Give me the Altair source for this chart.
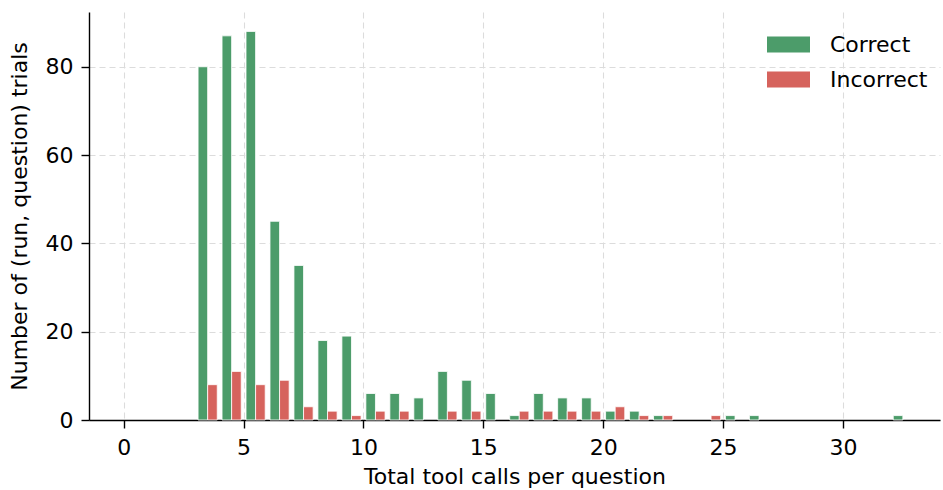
import altair as alt
import pandas as pd

bins = list(range(3, 33))
correct = [80, 87, 88, 45, 35, 18, 19, 6, 6, 5, 11, 9, 6, 1, 6, 5, 5, 2, 2, 1,
           0, 0, 1, 1, 0, 0, 0, 0, 0, 1]
incorrect = [8, 11, 8, 9, 3, 2, 1, 2, 2, 0, 2, 2, 0, 2, 2, 2, 2, 3, 1, 1,
             0, 1, 0, 0, 0, 0, 0, 0, 0, 0]
outcomes = ["Correct", "Incorrect"]
colors = ["#4c9c6a", "#d6635d"]
x_ticks = [0, 5, 10, 15, 20, 25, 30]
y_ticks = [0, 20, 40, 60, 80]

rows = []
for b, c, i in zip(bins, correct, incorrect):
    rows.append({"bin": b, "outcome": "Correct", "count": c})
    rows.append({"bin": b, "outcome": "Incorrect", "count": i})
df = pd.DataFrame(rows)

font = "DejaVu Sans"
fs = 22

chart = alt.Chart(df).transform_filter(
    alt.datum["count"] > 0
).transform_calculate(
    x0="datum.bin + (datum.outcome == 'Correct' ? 0.1 : 0.5)",
    x1="datum.bin + (datum.outcome == 'Correct' ? 0.5 : 0.9)",
).mark_rect(stroke="white", strokeWidth=0.8).encode(
    x=alt.X("x0:Q", title="Total tool calls per question",
            scale=alt.Scale(domain=[-1.45, 34.05], nice=False, zero=False),
            axis=alt.Axis(values=x_ticks, format="d", grid=True, gridDash=[6, 4],
                          gridColor="#dcdcdc", gridWidth=1.1,
                          labelPadding=9, titlePadding=8)),
    x2="x1:Q",
    y=alt.Y("count:Q", title="Number of (run, question) trials",
            scale=alt.Scale(domain=[0, 92.4], nice=False),
            axis=alt.Axis(values=y_ticks, grid=True, gridDash=[6, 4],
                          gridColor="#dcdcdc", gridWidth=1.1,
                          labelPadding=8, titlePadding=14)),
    y2=alt.value(408),
    color=alt.Color("outcome:N", title=None,
                    scale=alt.Scale(domain=outcomes, range=colors),
                    legend=alt.Legend(orient="none", legendX=678, legendY=11,
                                      symbolType="M-1,-0.37L1,-0.37L1,0.37L-1,0.37Z",
                                      symbolSize=1849, symbolStrokeWidth=0,
                                      symbolOpacity=1,
                                      labelFontSize=fs, labelFont=font,
                                      labelColor="black", labelOffset=20,
                                      rowPadding=2)),
).properties(
    width=851, height=408,
    autosize=alt.AutoSizeParams(type="none"),
    padding={"left": 89, "top": 12, "right": 3, "bottom": 70},
).configure_view(
    stroke=None
).configure_axis(
    labelFont=font, titleFont=font, labelFontSize=fs, titleFontSize=fs,
    labelColor="black", titleColor="black", titleFontWeight="normal",
    domainColor="black", domainWidth=1.4, tickColor="black", tickWidth=1.4,
    tickSize=8,
)

chart.save("out.html", embed_options={"renderer": "svg", "actions": False})
